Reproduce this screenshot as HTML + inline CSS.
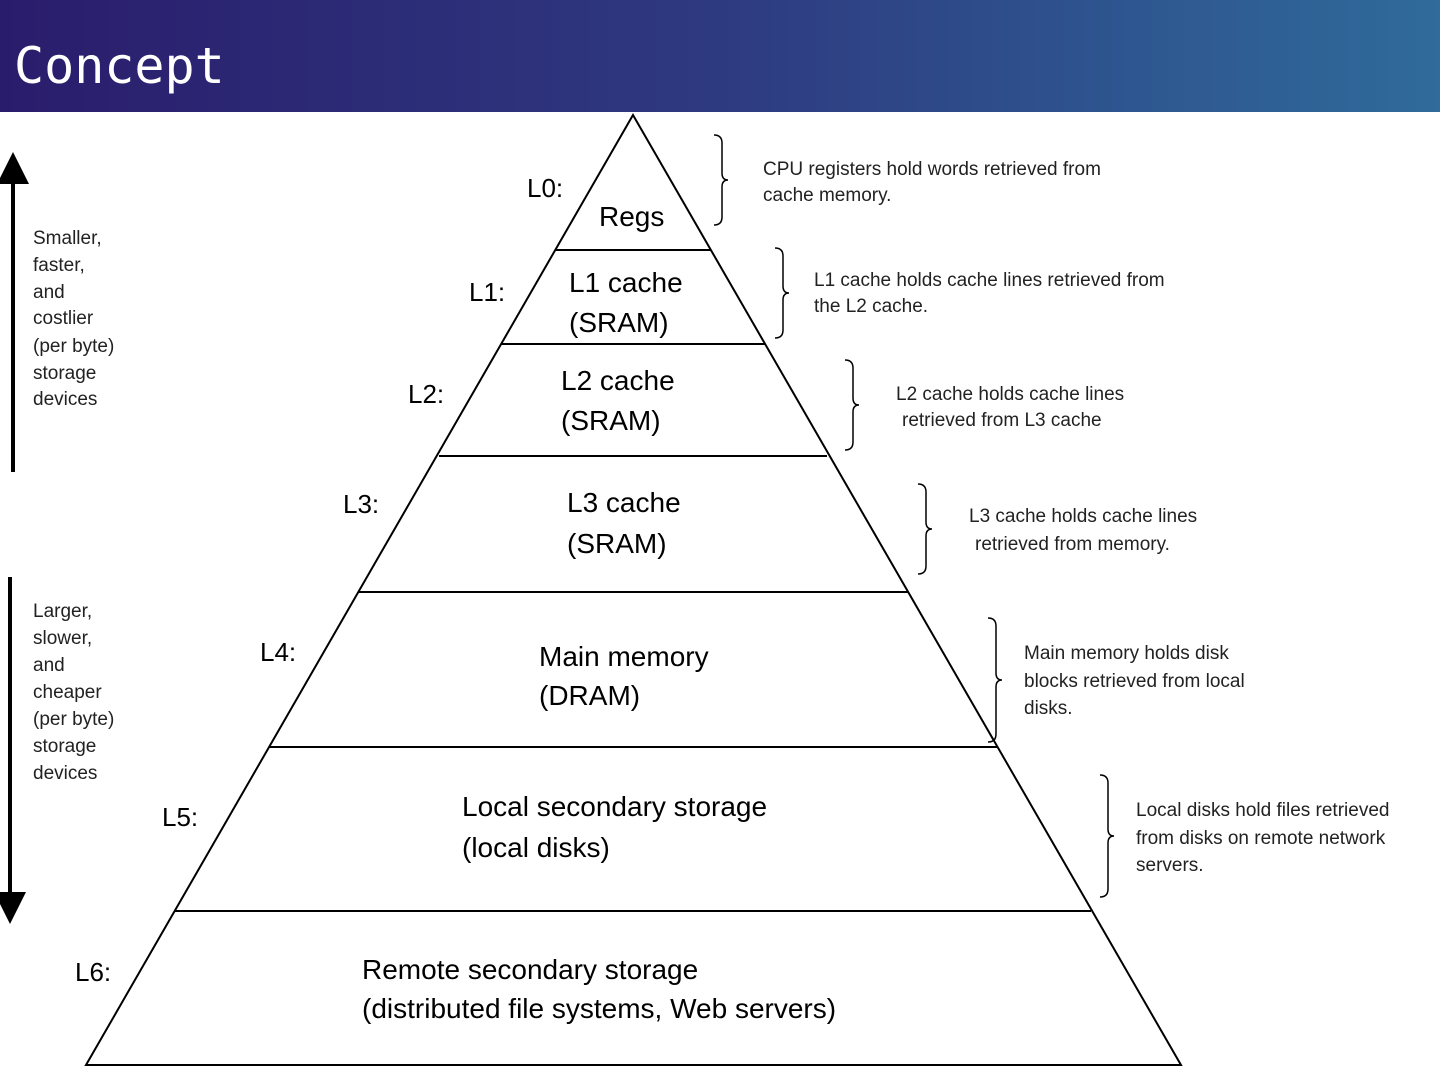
<!DOCTYPE html>
<html><head><meta charset="utf-8"><style>
body{margin:0;width:1440px;height:1080px;background:#fff;overflow:hidden;}
.hdr{position:absolute;left:0;top:0;width:1440px;height:112px;background:linear-gradient(90deg,#2a1c6c 0%,#2e3a80 50%,#2f6b9b 100%);}
.hdr span{position:absolute;left:14px;top:36px;color:#fff;font-family:"DejaVu Sans Mono","Liberation Mono",monospace;font-size:50px;line-height:60px;}
svg{position:absolute;left:0;top:0;}
text{font-family:"Liberation Sans",sans-serif;fill:#000;}
.lv{font-size:26px;}
.in{font-size:28px;}
.sm{font-size:19px;fill:#222;}
</style></head><body>
<div class="hdr"><span>Concept</span></div>
<svg width="1440" height="1080" viewBox="0 0 1440 1080">
<defs><marker id="ah" markerWidth="8" markerHeight="8" refX="4" refY="4" orient="auto"><path d="M0,0 L8,4 L0,8 z" fill="#000"/></marker></defs>
<g stroke="#000" stroke-width="2" fill="none">
<polygon points="633,115 86,1065 1181,1065"/>
<line x1="555" y1="250" x2="711" y2="250"/>
<line x1="501" y1="344" x2="765" y2="344"/>
<line x1="439" y1="456" x2="827" y2="456"/>
<line x1="358" y1="592" x2="908" y2="592"/>
<line x1="269" y1="747" x2="997" y2="747"/>
<line x1="175" y1="911" x2="1091" y2="911"/>
</g>
<g stroke="#000" stroke-width="1.5" fill="none">
<path d="M714,135 q8,0 8,8 v30 q0,7 6,7 q-6,0 -6,7 v30 q0,8 -8,8"/>
<path d="M775,248 q8,0 8,8 v30 q0,7 6,7 q-6,0 -6,7 v30 q0,8 -8,8"/>
<path d="M845,360 q8,0 8,8 v30 q0,7 6,7 q-6,0 -6,7 v30 q0,8 -8,8"/>
<path d="M918,484 q8,0 8,8 v30 q0,7 6,7 q-6,0 -6,7 v30 q0,8 -8,8"/>
<path d="M988,618 q8,0 8,8 v47 q0,7 6,7 q-6,0 -6,7 v47 q0,8 -8,8"/>
<path d="M1100,775 q8,0 8,8 v46 q0,7 6,7 q-6,0 -6,7 v46 q0,8 -8,8"/>
</g>
<line x1="13" y1="472" x2="13" y2="168" stroke="#000" stroke-width="4" marker-end="url(#ah)"/>
<line x1="10" y1="577" x2="10" y2="908" stroke="#000" stroke-width="4" marker-end="url(#ah)"/>
<text class="lv" x="527" y="197">L0:</text>
<text class="lv" x="469" y="301">L1:</text>
<text class="lv" x="408" y="403">L2:</text>
<text class="lv" x="343" y="513">L3:</text>
<text class="lv" x="260" y="661">L4:</text>
<text class="lv" x="162" y="826">L5:</text>
<text class="lv" x="75" y="981">L6:</text>
<text class="in" x="599" y="226">Regs</text>
<text class="in" x="569" y="292">L1 cache</text><text class="in" x="569" y="332">(SRAM)</text>
<text class="in" x="561" y="390">L2 cache</text><text class="in" x="561" y="430">(SRAM)</text>
<text class="in" x="567" y="512">L3 cache</text><text class="in" x="567" y="553">(SRAM)</text>
<text class="in" x="539" y="666">Main memory</text><text class="in" x="539" y="705">(DRAM)</text>
<text class="in" x="462" y="816">Local secondary storage</text><text class="in" x="462" y="857">(local disks)</text>
<text class="in" x="362" y="979">Remote secondary storage</text><text class="in" x="362" y="1018">(distributed file systems, Web servers)</text>
<text class="sm" x="763" y="175">CPU registers hold words retrieved from</text><text class="sm" x="763" y="201">cache memory.</text>
<text class="sm" x="814" y="286">L1 cache holds cache lines retrieved from</text><text class="sm" x="814" y="312">the L2 cache.</text>
<text class="sm" x="896" y="400">L2 cache holds cache lines</text><text class="sm" x="902" y="426">retrieved from L3 cache</text>
<text class="sm" x="969" y="522">L3 cache holds cache lines</text><text class="sm" x="975" y="550">retrieved from memory.</text>
<text class="sm" x="1024" y="659">Main memory holds disk</text><text class="sm" x="1024" y="687">blocks retrieved from local</text><text class="sm" x="1024" y="714">disks.</text>
<text class="sm" x="1136" y="816">Local disks hold files retrieved</text><text class="sm" x="1136" y="844">from disks on remote network</text><text class="sm" x="1136" y="871">servers.</text>
<g class="sm">
<text class="sm" x="33" y="244">Smaller,</text><text class="sm" x="33" y="271">faster,</text><text class="sm" x="33" y="298">and</text><text class="sm" x="33" y="324">costlier</text><text class="sm" x="33" y="352">(per byte)</text><text class="sm" x="33" y="379">storage</text><text class="sm" x="33" y="405">devices</text>
<text class="sm" x="33" y="617">Larger,</text><text class="sm" x="33" y="644">slower,</text><text class="sm" x="33" y="671">and</text><text class="sm" x="33" y="698">cheaper</text><text class="sm" x="33" y="725">(per byte)</text><text class="sm" x="33" y="752">storage</text><text class="sm" x="33" y="779">devices</text>
</g>
</svg>
</body></html>
